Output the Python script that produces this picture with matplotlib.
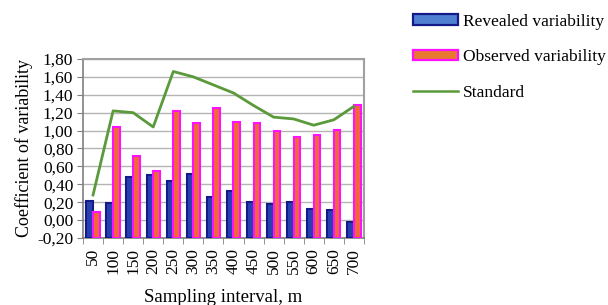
import matplotlib
matplotlib.use("Agg")
import matplotlib.pyplot as plt
from matplotlib.patches import Patch
from matplotlib.lines import Line2D
import numpy as np

categories = ["50", "100", "150", "200", "250", "300", "350", "400", "450",
              "500", "550", "600", "650", "700"]
revealed = [0.21, 0.19, 0.48, 0.50, 0.44, 0.51, 0.26, 0.32, 0.20, 0.18, 0.20, 0.12, 0.11, -0.02]
observed = [0.09, 1.04, 0.72, 0.55, 1.22, 1.09, 1.25, 1.10, 1.09, 0.99, 0.93, 0.95, 1.01, 1.29]
standard = [0.28, 1.22, 1.20, 1.04, 1.66, 1.60, 1.51, 1.42, 1.28, 1.15, 1.13, 1.06, 1.12, 1.27]
yticks = [-0.20, 0.00, 0.20, 0.40, 0.60, 0.80, 1.00, 1.20, 1.40, 1.60, 1.80]
base = -0.20

plt.rcParams['font.family'] = ['Liberation Serif', 'DejaVu Serif']

fig = plt.figure(figsize=(6.08, 3.05), dpi=100)
ax = fig.add_axes([0.1365, 0.2197, 0.462, 0.587])

x = np.arange(len(categories))
w = 0.333
ax.bar(x - w/2, np.array(revealed) - base, width=w, bottom=base,
       color="#2840b0", edgecolor="#141a88", linewidth=1.5, zorder=3)
ax.bar(x + w/2, np.array(observed) - base, width=w, bottom=base,
       color="#f06838", edgecolor="#ff10ff", linewidth=1.5, zorder=3)
ax.plot(x, standard, color="#5a9a3a", linewidth=2.0, zorder=4)

ax.set_xlim(-0.5, len(categories) - 0.5)
ax.set_ylim(-0.20, 1.80)
ax.set_yticks(yticks)
ax.set_yticklabels([f"{v:.2f}".replace(".", ",") for v in yticks], fontsize=12.5)
ax.yaxis.grid(True, color="#b4b4b4", linewidth=1.0, zorder=0)
ax.set_axisbelow(True)

ax.set_xticks(x)
ax.set_xticklabels(categories, rotation=90, fontsize=12.5)
ax.set_xticks(np.arange(-0.5, len(categories), 1.0), minor=True)
ax.tick_params(axis="x", which="major", length=0, pad=7)
ax.tick_params(axis="x", which="minor", length=4, color="#808080")
ax.tick_params(axis="y", length=4, color="#808080", pad=3)

for s in ["top", "right"]:
    ax.spines[s].set_color("#a0a0a0")
    ax.spines[s].set_linewidth(1.5)
for s in ["left", "bottom"]:
    ax.spines[s].set_color("#808080")
    ax.spines[s].set_linewidth(1.2)

ax.set_ylabel("Coefficient of variability", fontsize=13, labelpad=3)
ax.set_xlabel("Sampling interval, m", fontsize=13.5, labelpad=11)

handles = [
    Patch(facecolor="#4f7fd0", edgecolor="#141a88", linewidth=1.6),
    Patch(facecolor="#e87830", edgecolor="#ff10ff", linewidth=1.6),
    Line2D([0], [0], color="#5a9a3a", linewidth=1.8),
]
labels = ["Revealed variability", "Observed variability", "Standard"]
fig.legend(handles, labels, loc="upper left", bbox_to_anchor=(0.679, 0.955),
           frameon=False, fontsize=12.5, handlelength=2.6, handleheight=0.55,
           handletextpad=0.3, labelspacing=1.12, borderaxespad=0, borderpad=0)

fig.savefig("out.png", dpi=100)
